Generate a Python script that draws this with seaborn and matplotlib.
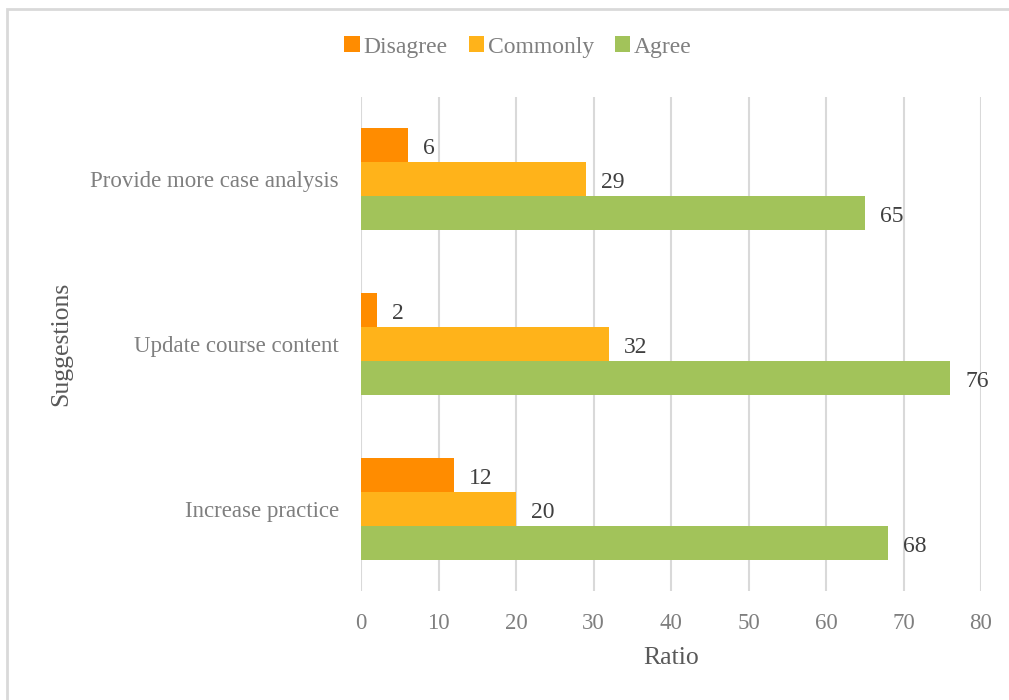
import matplotlib
matplotlib.use("Agg")
import matplotlib.pyplot as plt
import matplotlib.patches as mpatches
import seaborn as sns
import pandas as pd

categories = ["Provide more case analysis", "Update course content", "Increase practice"]
series_names = ["Disagree", "Commonly", "Agree"]
disagree = [6, 2, 12]
commonly = [29, 32, 20]
agree = [65, 76, 68]
x_ticks = [0, 10, 20, 30, 40, 50, 60, 70, 80]

colors = ["#FF8C00", "#FFB31A", "#A2C35A"]

rows = []
for name, vals in zip(series_names, [disagree, commonly, agree]):
    for c, v in zip(categories, vals):
        rows.append({"Suggestions": c, "Ratio": v, "Series": name})
df = pd.DataFrame(rows)

sns.set_theme(style="white")
plt.rcParams["font.family"] = ["Liberation Serif", "DejaVu Serif"]

W, H = 1009, 700
fig = plt.figure(figsize=(W / 100, H / 100), dpi=100)
ax = fig.add_axes([361 / W, 1 - 591 / H, (981 - 361) / W, (591 - 97) / H])

sns.barplot(data=df, y="Suggestions", x="Ratio", hue="Series",
            order=categories, hue_order=series_names, palette=colors,
            orient="h", width=0.62, saturation=1, ax=ax, legend=False,
            edgecolor="none", zorder=3)

ax.set_xlim(0, 80)
ax.set_xticks(x_ticks)
ax.xaxis.grid(True, color="#D9D9D9", linewidth=1.5, zorder=0)
ax.yaxis.grid(False)
for s in ax.spines.values():
    s.set_visible(False)
ax.tick_params(axis="both", length=0, labelsize=16.5, labelcolor="#7F7F7F")
ax.tick_params(axis="x", pad=16)
ax.tick_params(axis="y", pad=16)
ax.set_xlabel("Ratio", fontsize=18.5, color="#595959", labelpad=9)
ax.set_ylabel("Suggestions", fontsize=18.5, color="#595959", labelpad=13)

for cont in ax.containers:
    for patch, v in zip(cont.patches, cont.datavalues):
        ax.annotate(f"{int(v)}",
                    xy=(patch.get_x() + patch.get_width(), patch.get_y() + patch.get_height() / 2),
                    xytext=(11, -2.5), textcoords="offset points",
                    ha="left", va="center", fontsize=17, color="#404040")

handles = [mpatches.Patch(facecolor=c, edgecolor="none", label=n)
           for c, n in zip(colors, series_names)]
fig.legend(handles=handles, loc="center", bbox_to_anchor=(518 / W, 1 - 47 / H),
           ncol=3, frameon=False, fontsize=17, handlelength=0.65, handleheight=0.65,
           handletextpad=0.15, columnspacing=0.9, labelcolor="#7F7F7F")

border = mpatches.Rectangle((7 / W, -0.1), 1.2, 1 - 9 / H + 0.1, transform=fig.transFigure,
                            fill=False, edgecolor="#D9D9D9", linewidth=2, zorder=10)
fig.patches.append(border)

fig.savefig("out.png", dpi=100)
